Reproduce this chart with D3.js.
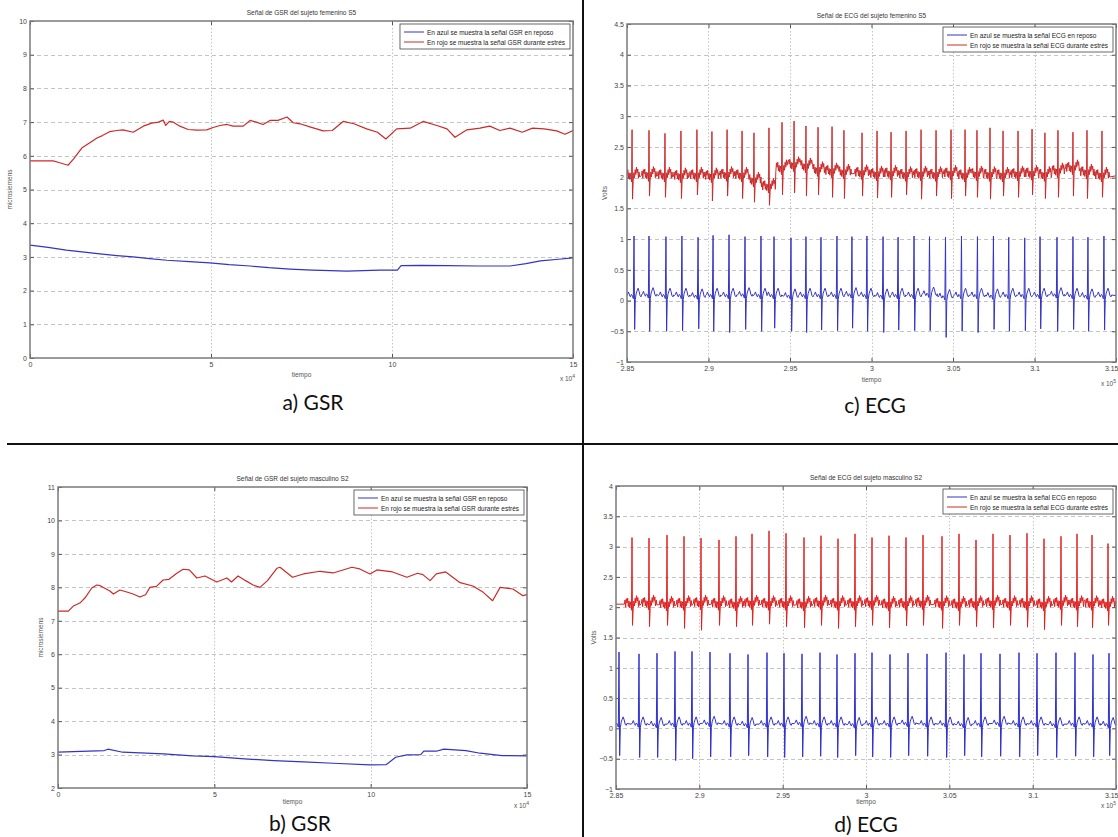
<!DOCTYPE html>
<html>
<head>
<meta charset="utf-8">
<script src="https://cdnjs.cloudflare.com/ajax/libs/d3/7.8.5/d3.min.js"></script>
<style>
  body { margin: 0; background: #fff; }
  svg { display: block; font-family: "Liberation Sans", Arial, sans-serif; }
</style>
</head>
<body>
<svg id="chart" width="1118" height="837"></svg>
<script>
// ---- GSR, female subject S5 (time x 10^4) ----
var gsrA_time_red = [0, 0.64, 0.8, 1.05, 1.2, 1.43, 1.6, 1.85, 2.0, 2.21, 2.4, 2.57, 2.85, 3.13, 3.36, 3.55, 3.68, 3.75, 3.85, 3.95, 4.14, 4.37, 4.6, 4.88, 5.06, 5.25, 5.44, 5.61, 5.89, 6.08, 6.25, 6.44, 6.63, 6.85, 7.1, 7.27, 7.46, 7.73, 8.1, 8.35, 8.65, 8.95, 9.3, 9.6, 9.83, 10.13, 10.5, 10.86, 11.24, 11.52, 11.74, 12.07, 12.43, 12.7, 12.98, 13.26, 13.6, 13.88, 14.2, 14.55, 14.78, 15];
var gsrA_red = [5.85, 5.85, 5.8, 5.72, 5.9, 6.23, 6.35, 6.53, 6.6, 6.72, 6.75, 6.77, 6.7, 6.88, 6.97, 7.0, 7.06, 6.9, 7.02, 7.0, 6.88, 6.78, 6.76, 6.77, 6.84, 6.9, 6.93, 6.88, 6.88, 7.05, 7.0, 6.93, 7.05, 7.05, 7.15, 6.98, 6.95, 6.86, 6.74, 6.75, 7.02, 6.95, 6.8, 6.7, 6.5, 6.8, 6.82, 7.02, 6.9, 6.8, 6.55, 6.77, 6.82, 6.88, 6.75, 6.82, 6.7, 6.82, 6.8, 6.74, 6.64, 6.75];
var gsrA_time_blue = [0, 0.5, 1.0, 1.5, 1.93, 2.4, 2.85, 3.3, 3.78, 4.4, 4.97, 5.5, 6.08, 6.6, 7.18, 7.8, 8.3, 8.75, 9.2, 9.67, 10.15, 10.25, 10.8, 11.5, 12.4, 13.26, 13.7, 14.1, 14.6, 15];
var gsrA_blue = [3.35, 3.28, 3.2, 3.14, 3.09, 3.04, 3.0, 2.95, 2.9, 2.86, 2.82, 2.77, 2.73, 2.68, 2.64, 2.61, 2.59, 2.58, 2.59, 2.61, 2.61, 2.74, 2.75, 2.74, 2.73, 2.73, 2.8, 2.88, 2.93, 2.97];

// ---- GSR, male subject S2 (time x 10^4) ----
var gsrB_time_red = [0, 0.33, 0.49, 0.7, 0.86, 1.08, 1.24, 1.35, 1.66, 1.77, 1.98, 2.2, 2.4, 2.62, 2.8, 2.94, 3.15, 3.36, 3.55, 3.8, 4.0, 4.2, 4.44, 4.7, 5.08, 5.4, 5.55, 5.76, 6.0, 6.24, 6.46, 6.7, 7.0, 7.1, 7.3, 7.5, 7.85, 8.38, 8.8, 9.4, 9.65, 9.98, 10.2, 10.7, 11.16, 11.5, 11.67, 11.9, 12.1, 12.4, 12.86, 13.27, 13.6, 13.9, 14.14, 14.55, 14.87, 15];
var gsrB_red = [7.29, 7.29, 7.44, 7.53, 7.68, 7.98, 8.07, 8.05, 7.89, 7.8, 7.92, 7.86, 7.8, 7.71, 7.78, 8.0, 8.03, 8.22, 8.24, 8.42, 8.54, 8.52, 8.28, 8.34, 8.16, 8.28, 8.16, 8.34, 8.2, 8.07, 8.0, 8.2, 8.57, 8.6, 8.45, 8.3, 8.4, 8.48, 8.43, 8.6, 8.55, 8.4, 8.52, 8.46, 8.3, 8.42, 8.38, 8.2, 8.4, 8.46, 8.14, 8.04, 7.85, 7.6, 8.0, 7.95, 7.75, 7.78];
var gsrB_time_blue = [0, 1.48, 1.6, 2.07, 3.37, 4.3, 5.0, 5.96, 6.9, 7.85, 8.8, 9.98, 10.5, 10.8, 11.16, 11.6, 11.7, 12.1, 12.34, 13.05, 13.5, 14.2, 15];
var gsrB_blue = [3.07, 3.12, 3.16, 3.07, 3.02, 2.96, 2.94, 2.87, 2.82, 2.78, 2.74, 2.69, 2.7, 2.92, 2.99, 3.0, 3.1, 3.1, 3.16, 3.12, 3.04, 2.97, 2.96];

// ---- ECG, female subject S5 (time x 10^5): beat times, R peaks, S dips, baselines ----
var ecgC_blueBeats = [2.8543, 2.8635, 2.8739, 2.8837, 2.8936, 2.9028, 2.9126, 2.9224, 2.9322, 2.9402, 2.9506, 2.9598, 2.9690, 2.9788, 2.9880, 2.9972, 3.0071, 3.0163, 3.0261, 3.0356, 3.0454, 3.0552, 3.0650, 3.0748, 3.0842, 3.0940, 3.1034, 3.1138, 3.1236, 3.1328, 3.1426];
var ecgC_bluePeaks = [1.05, 1.05, 1.04, 1.05, 1.03, 1.06, 1.07, 1.04, 1.05, 1.04, 1.02, 1.04, 1.03, 1.05, 1.04, 1.05, 1.04, 1.03, 1.05, 1.04, 1.03, 1.05, 1.04, 1.05, 1.03, 1.02, 1.04, 1.03, 1.04, 1.03, 1.05];
var ecgC_blueDips = [-0.47, -0.5, -0.5, -0.49, -0.46, -0.5, -0.52, -0.47, -0.5, -0.45, -0.5, -0.52, -0.48, -0.49, -0.45, -0.5, -0.52, -0.48, -0.49, -0.49, -0.6, -0.5, -0.52, -0.47, -0.5, -0.49, -0.46, -0.5, -0.47, -0.5, -0.48];
var ecgC_blueBase = [0.08, 0.09, 0.08, 0.08, 0.07, 0.08, 0.08, 0.09, 0.08, 0.08, 0.07, 0.08, 0.08, 0.08, 0.09, 0.08, 0.07, 0.08, 0.08, 0.1, 0.06, 0.08, 0.08, 0.07, 0.08, 0.08, 0.08, 0.09, 0.08, 0.07, 0.08];
var ecgC_redBeats = [2.8531, 2.8635, 2.8733, 2.8831, 2.8929, 2.9021, 2.9114, 2.9206, 2.9279, 2.9371, 2.9451, 2.9525, 2.9598, 2.9672, 2.9758, 2.9831, 2.9942, 3.0034, 3.0120, 3.0212, 3.0304, 3.0396, 3.0488, 3.0574, 3.0647, 3.0727, 3.0807, 3.0899, 3.0985, 3.1064, 3.1144, 3.1236, 3.1322, 3.1414];
var ecgC_redPeaks = [2.78, 2.77, 2.72, 2.76, 2.78, 2.75, 2.78, 2.76, 2.73, 2.81, 2.9, 2.92, 2.84, 2.82, 2.83, 2.77, 2.73, 2.76, 2.74, 2.76, 2.78, 2.77, 2.78, 2.78, 2.77, 2.81, 2.76, 2.76, 2.79, 2.73, 2.77, 2.74, 2.77, 2.76];
var ecgC_redDips = [1.65, 1.7, 1.68, 1.66, 1.72, 1.62, 1.7, 1.66, 1.6, 1.55, 1.72, 1.75, 1.7, 1.72, 1.68, 1.66, 1.7, 1.67, 1.68, 1.72, 1.65, 1.7, 1.66, 1.7, 1.68, 1.65, 1.7, 1.68, 1.72, 1.66, 1.68, 1.7, 1.66, 1.68];
var ecgC_redBase = [2.03, 2.04, 2.03, 2.02, 2.03, 2.02, 2.04, 2.03, 1.95, 1.85, 2.15, 2.2, 2.18, 2.12, 2.1, 2.08, 2.07, 2.05, 2.06, 2.04, 2.05, 2.04, 2.06, 2.03, 2.05, 2.04, 2.03, 2.05, 2.06, 2.04, 2.1, 2.15, 2.08, 2.03];

// ---- ECG, male subject S2 (time x 10^5) ----
var ecgD_blueBeats = [2.8518, 2.8638, 2.8746, 2.8854, 2.8956, 2.9064, 2.9184, 2.9292, 2.9406, 2.9508, 2.9616, 2.9724, 2.9826, 2.9934, 3.0036, 3.0144, 3.0252, 3.0366, 3.0480, 3.0588, 3.0690, 3.0804, 3.0918, 3.1026, 3.1140, 3.1254, 3.1362, 3.1458];
var ecgD_bluePeaks = [1.26, 1.23, 1.24, 1.27, 1.27, 1.26, 1.24, 1.22, 1.25, 1.24, 1.23, 1.25, 1.22, 1.24, 1.25, 1.22, 1.24, 1.23, 1.25, 1.22, 1.24, 1.23, 1.25, 1.24, 1.25, 1.25, 1.22, 1.24];
var ecgD_blueDips = [-0.45, -0.48, -0.48, -0.53, -0.5, -0.47, -0.47, -0.45, -0.47, -0.48, -0.47, -0.46, -0.48, -0.45, -0.47, -0.48, -0.45, -0.46, -0.48, -0.45, -0.47, -0.46, -0.47, -0.45, -0.48, -0.46, -0.47, -0.45];
var ecgD_blueBase = [0.07, 0.07, 0.06, 0.07, 0.07, 0.08, 0.07, 0.06, 0.07, 0.07, 0.08, 0.07, 0.07, 0.06, 0.07, 0.07, 0.08, 0.07, 0.07, 0.06, 0.07, 0.08, 0.07, 0.07, 0.06, 0.07, 0.07, 0.06];
var ecgD_redBeats = [2.8596, 2.8698, 2.8806, 2.8908, 2.9010, 2.9118, 2.9220, 2.9316, 2.9418, 2.9520, 2.9628, 2.9730, 2.9832, 2.9934, 3.0036, 3.0138, 3.0240, 3.0342, 3.0456, 3.0558, 3.0660, 3.0762, 3.0864, 3.0966, 3.1068, 3.1170, 3.1266, 3.1356, 3.1452];
var ecgD_redPeaks = [3.15, 3.14, 3.19, 3.17, 3.14, 3.11, 3.17, 3.21, 3.26, 3.22, 3.15, 3.18, 3.13, 3.21, 3.15, 3.18, 3.15, 3.19, 3.17, 3.21, 3.11, 3.21, 3.19, 3.22, 3.13, 3.17, 3.21, 3.19, 3.05];
var ecgD_redDips = [1.7, 1.68, 1.7, 1.65, 1.62, 1.7, 1.68, 1.7, 1.72, 1.68, 1.66, 1.7, 1.65, 1.68, 1.7, 1.66, 1.69, 1.7, 1.65, 1.7, 1.68, 1.66, 1.7, 1.67, 1.63, 1.7, 1.68, 1.66, 1.7];
var ecgD_redBase = [2.05, 2.06, 2.04, 2.05, 2.06, 2.05, 2.04, 2.06, 2.05, 2.05, 2.04, 2.06, 2.05, 2.05, 2.06, 2.04, 2.05, 2.06, 2.05, 2.04, 2.05, 2.06, 2.05, 2.05, 2.04, 2.06, 2.05, 2.05, 2.04];

// one heartbeat: [time offset, level above baseline] ('R' / 'S' = peak / dip)
var restShape = [[-0.0046, 0.00], [-0.0040, 0.02], [-0.0034, 0.06], [-0.0028, 0.01], [-0.0022, -0.02], [-0.0016, 0.02], [-0.0010, 0.00], [-0.0004, -0.05], [0, 'R'], [0.0004, 'S'], [0.0008, -0.06], [0.0013, 0.03], [0.0019, 0.08], [0.0025, 0.12], [0.0031, 0.07], [0.0037, 0.00], [0.0043, -0.02], [0.0047, 0.01]];
var stressShape = [[-0.0046, 0.00], [-0.0042, 0.07], [-0.0038, -0.05], [-0.0034, 0.09], [-0.0030, 0.02], [-0.0026, 0.10], [-0.0022, -0.04], [-0.0018, 0.05], [-0.0014, -0.06], [-0.0010, 0.04], [-0.0006, -0.03], [-0.0003, -0.10], [0, 'R'], [0.0003, 'S'], [0.0007, -0.08], [0.0011, 0.05], [0.0015, -0.03], [0.0019, 0.10], [0.0023, 0.02], [0.0027, 0.14], [0.0031, 0.05], [0.0035, 0.11], [0.0039, -0.04], [0.0043, 0.06], [0.0047, -0.02]];

// ticks
var gsrTimeTicks = [0, 5, 10, 15];
var ecgTimeTicks = [2.85, 2.9, 2.95, 3, 3.05, 3.1, 3.15];
var ecgTimeLabels = ["2.85", "2.9", "2.95", "3", "3.05", "3.1", "3.15"];

var blue = "#3434c4";
var red = "#cc2a2a";

var svg = d3.select("#chart");

var pairs = function(xs, ys) {
  return xs.map(function(t, i) { return [t, ys[i]]; });
};

var buildEcg = function(beats, peaks, dips, base, shape, dom) {
  var pts = [[dom[0], base[0]]];
  beats.forEach(function(tb, i) {
    var lo = i == 0 ? dom[0] : (beats[i - 1] + tb) / 2;
    var hi = i == beats.length - 1 ? dom[1] : (beats[i + 1] + tb) / 2;
    shape.forEach(function(s) {
      var t = tb + s[0];
      if (t < lo || t >= hi) return;
      var v = s[1] == 'R' ? peaks[i] : s[1] == 'S' ? dips[i] : base[i] + s[1];
      pts.push([t, v]);
    });
  });
  pts.push([dom[1], base[base.length - 1]]);
  return pts;
};

var panels = [
  {
    left: 30, top: 21, right: 573, bottom: 358,
    xDom: [0, 15], xTicks: gsrTimeTicks, xLabels: ["0", "5", "10", "15"], exp: "4",
    yDom: [0, 10], yTicks: d3.range(0, 11),
    title: "Señal de GSR del sujeto femenino S5",
    ylabel: "microsiemens", ylabelX: 12, xlabDy: 19,
    legend: ["En azul se muestra la señal GSR en reposo", "En rojo se muestra la señal GSR durante estrés"],
    caption: "a) GSR", capX: 313, capY: 410,
    series: [
      {pts: pairs(gsrA_time_blue, gsrA_blue), color: blue, w: 1.2},
      {pts: pairs(gsrA_time_red, gsrA_red), color: red, w: 1.2}
    ]
  },
  {
    left: 627, top: 24, right: 1116, bottom: 362,
    xDom: [2.85, 3.15], xTicks: ecgTimeTicks, xLabels: ecgTimeLabels, exp: "5",
    yDom: [-1, 4.5], yTicks: d3.range(-1, 4.51, 0.5),
    title: "Señal de ECG del sujeto femenino S5",
    ylabel: "Volts", ylabelX: 607, xlabDy: 20,
    legend: ["En azul se muestra la señal ECG en reposo", "En rojo se muestra la señal ECG durante estrés"],
    caption: "c) ECG", capX: 875, capY: 413,
    series: [
      {pts: buildEcg(ecgC_redBeats, ecgC_redPeaks, ecgC_redDips, ecgC_redBase, stressShape, [2.85, 3.15]), color: red, w: 1},
      {pts: buildEcg(ecgC_blueBeats, ecgC_bluePeaks, ecgC_blueDips, ecgC_blueBase, restShape, [2.85, 3.15]), color: blue, w: 1}
    ]
  },
  {
    left: 58, top: 487, right: 527, bottom: 788,
    xDom: [0, 15], xTicks: gsrTimeTicks, xLabels: ["0", "5", "10", "15"], exp: "4",
    yDom: [2, 11], yTicks: d3.range(2, 12),
    title: "Señal de GSR del sujeto masculino S2",
    ylabel: "microsiemens", ylabelX: 43, xlabDy: 16,
    legend: ["En azul se muestra la señal GSR en reposo", "En rojo se muestra la señal GSR durante estrés"],
    caption: "b) GSR", capX: 300, capY: 831,
    series: [
      {pts: pairs(gsrB_time_blue, gsrB_blue), color: blue, w: 1.2},
      {pts: pairs(gsrB_time_red, gsrB_red), color: red, w: 1.2}
    ]
  },
  {
    left: 616, top: 486, right: 1116, bottom: 789,
    xDom: [2.85, 3.15], xTicks: ecgTimeTicks, xLabels: ecgTimeLabels, exp: "5",
    yDom: [-1, 4], yTicks: d3.range(-1, 4.01, 0.5),
    title: "Señal de ECG del sujeto masculino S2",
    ylabel: "Volts", ylabelX: 596, xlabDy: 15,
    legend: ["En azul se muestra la señal ECG en reposo", "En rojo se muestra la señal ECG durante estrés"],
    caption: "d) ECG", capX: 866, capY: 832,
    series: [
      {pts: buildEcg(ecgD_redBeats, ecgD_redPeaks, ecgD_redDips, ecgD_redBase, stressShape, [2.85, 3.15]), color: "#e02020", w: 1},
      {pts: buildEcg(ecgD_blueBeats, ecgD_bluePeaks, ecgD_blueDips, ecgD_blueBase, restShape, [2.85, 3.15]), color: "#2f2fd0", w: 1}
    ]
  }
];

var fmtY = function(v) {
  var s = d3.format(".1f")(v);
  return s.replace(/\.0$/, "");
};

var drawPanel = function(p, k) {
  var g = svg.append("g");
  var x = d3.scaleLinear().domain(p.xDom).range([p.left, p.right]);
  var y = d3.scaleLinear().domain(p.yDom).range([p.bottom, p.top]);

  // dashed grid
  g.selectAll(".hgrid")
   .data(p.yTicks.filter(function(v) { return v > p.yDom[0] + 1e-9 && v < p.yDom[1] - 1e-9; }))
   .enter().append("line")
   .attr("x1", p.left).attr("x2", p.right)
   .attr("y1", function(d) { return Math.round(y(d)) + 0.5; })
   .attr("y2", function(d) { return Math.round(y(d)) + 0.5; })
   .attr("stroke", "#c4c4c4").attr("stroke-dasharray", "4,3");
  g.selectAll(".vgrid")
   .data(p.xTicks.filter(function(v) { return v > p.xDom[0] + 1e-9 && v < p.xDom[1] - 1e-9; }))
   .enter().append("line")
   .attr("y1", p.top).attr("y2", p.bottom)
   .attr("x1", function(d) { return Math.round(x(d)) + 0.5; })
   .attr("x2", function(d) { return Math.round(x(d)) + 0.5; })
   .attr("stroke", "#c4c4c4").attr("stroke-dasharray", "1.5,2");

  // data lines
  var clipId = "clip" + k;
  svg.append("clipPath").attr("id", clipId)
     .append("rect").attr("x", p.left).attr("y", p.top)
     .attr("width", p.right - p.left).attr("height", p.bottom - p.top);
  var line = d3.line().x(function(d) { return x(d[0]); }).y(function(d) { return y(d[1]); });
  g.append("g").attr("clip-path", "url(#" + clipId + ")")
   .selectAll("path").data(p.series).enter().append("path")
   .attr("d", function(d) { return line(d.pts); })
   .attr("fill", "none")
   .attr("stroke", function(d) { return d.color; })
   .attr("stroke-width", function(d) { return d.w; })
   .attr("stroke-linejoin", "round");

  // axes, ticks pointing inward on all four sides
  var axL = g.append("g").attr("transform", "translate(" + p.left + ",0)")
    .call(d3.axisLeft(y).tickValues(p.yTicks).tickSize(-4).tickPadding(3).tickFormat(fmtY));
  var axR = g.append("g").attr("transform", "translate(" + p.right + ",0)")
    .call(d3.axisRight(y).tickValues(p.yTicks).tickSize(-4).tickFormat(""));
  var axB = g.append("g").attr("transform", "translate(0," + p.bottom + ")")
    .call(d3.axisBottom(x).tickValues(p.xTicks).tickSize(-4).tickPadding(4)
      .tickFormat(function(d, i) { return p.xLabels[i]; }));
  var axT = g.append("g").attr("transform", "translate(0," + p.top + ")")
    .call(d3.axisTop(x).tickValues(p.xTicks).tickSize(-4).tickFormat(""));
  [axL, axR, axB, axT].forEach(function(a) {
    a.select(".domain").remove();
    a.selectAll("line").attr("stroke", "#555");
    a.selectAll("text").attr("fill", "#444").style("font-size", "7px").style("font-family", "Liberation Sans, Arial");
  });
  // the last time label sits at the page edge: keep it inside
  if (p.right > 1100) {
    axB.selectAll(".tick:last-of-type text").attr("text-anchor", "end").attr("dx", 2);
  }

  // box
  g.append("rect")
   .attr("x", p.left).attr("y", p.top)
   .attr("width", p.right - p.left).attr("height", p.bottom - p.top)
   .attr("fill", "none").attr("stroke", "#7a7a7a").attr("stroke-width", 1.5);

  // title and axis labels
  var cx = (p.left + p.right) / 2;
  g.append("text").attr("x", cx).attr("y", p.top - 6)
   .attr("text-anchor", "middle").attr("fill", "#333").style("font-size", "6.5px").text(p.title);
  g.append("text").attr("x", cx).attr("y", p.bottom + p.xlabDy)
   .attr("text-anchor", "middle").attr("fill", "#555").style("font-size", "6.5px").text("tiempo");
  var ex = g.append("text").attr("x", Math.min(p.right + 2, 1116)).attr("y", p.bottom + p.xlabDy + 4)
   .attr("text-anchor", "end").attr("fill", "#555").style("font-size", "6.5px").text("x 10");
  ex.append("tspan").attr("dy", -3).style("font-size", "5px").text(p.exp);
  g.append("text")
   .attr("transform", "translate(" + p.ylabelX + "," + ((p.top + p.bottom) / 2) + ") rotate(-90)")
   .attr("text-anchor", "middle").attr("fill", "#555").style("font-size", "6.5px").text(p.ylabel);

  // legend
  var lg = g.append("g");
  var rows = lg.selectAll(".row").data(p.legend).enter().append("g");
  rows.append("line")
   .attr("x1", 4).attr("x2", 24)
   .attr("y1", function(d, i) { return 8 + i * 10; })
   .attr("y2", function(d, i) { return 8 + i * 10; })
   .attr("stroke", function(d, i) { return i == 0 ? blue : red; })
   .attr("stroke-width", 1);
  rows.append("text")
   .attr("x", 27).attr("y", function(d, i) { return 10.5 + i * 10; })
   .attr("fill", "#222").style("font-size", "6.5px").text(function(d) { return d; });
  var tw = d3.max(rows.selectAll("text").nodes(), function(n) { return n.getComputedTextLength(); });
  var bw = 27 + tw + 5, bh = 25;
  lg.insert("rect", ":first-child")
    .attr("width", bw).attr("height", bh)
    .attr("fill", "#fff").attr("stroke", "#444").attr("stroke-width", 0.8);
  lg.attr("transform", "translate(" + (p.right - bw - 3) + "," + (p.top + 3) + ")");

  // caption below the chart
  svg.append("text").attr("x", p.capX).attr("y", p.capY)
     .attr("text-anchor", "middle").attr("fill", "#111")
     .style("font-family", "Lato, 'Open Sans', sans-serif").style("font-size", "21px")
     .text(p.caption);
};

panels.forEach(drawPanel);

// dividing lines between the four figures
svg.append("line").attr("x1", 583).attr("x2", 583).attr("y1", 0).attr("y2", 837)
   .attr("stroke", "#111").attr("stroke-width", 2);
svg.append("line").attr("x1", 7).attr("x2", 1118).attr("y1", 444).attr("y2", 444)
   .attr("stroke", "#111").attr("stroke-width", 2);
</script>
</body>
</html>
